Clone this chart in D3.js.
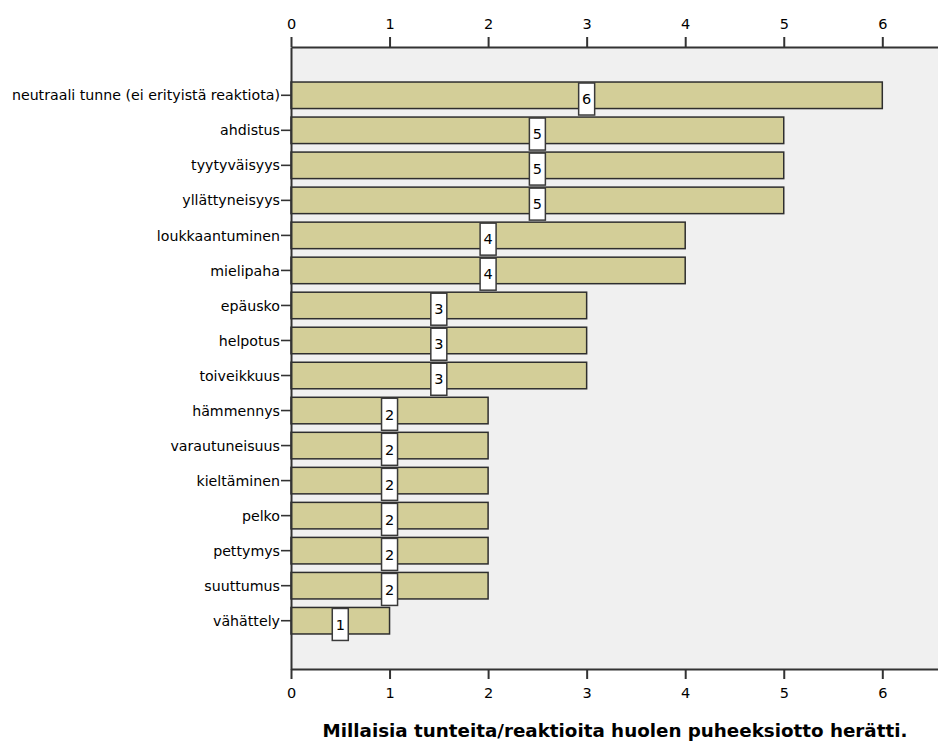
<!DOCTYPE html>
<html>
<head>
<meta charset="utf-8">
<script src="https://cdn.jsdelivr.net/npm/d3@7/dist/d3.min.js"></script>
<style>
  html, body { margin: 0; padding: 0; background: #ffffff; }
  svg { display: block; }
  text { font-family: "DejaVu Sans", "Liberation Sans", sans-serif; fill: #000; }
</style>
</head>
<body>
<svg id="chart" width="938" height="742"></svg>
<script>
// Reactions raised by bringing up the concern (counts)
const categories = [
  "neutraali tunne (ei erityistä reaktiota)",
  "ahdistus",
  "tyytyväisyys",
  "yllättyneisyys",
  "loukkaantuminen",
  "mielipaha",
  "epäusko",
  "helpotus",
  "toiveikkuus",
  "hämmennys",
  "varautuneisuus",
  "kieltäminen",
  "pelko",
  "pettymys",
  "suuttumus",
  "vähättely"
];
const counts = [6, 5, 5, 5, 4, 4, 3, 3, 3, 2, 2, 2, 2, 2, 2, 1];
const tickValues = [0, 1, 2, 3, 4, 5, 6];
const title = "Millaisia tunteita/reaktioita huolen puheeksiotto herätti.";

const svg = d3.select("#chart");
const plot = { left: 291, right: 938, top: 47, bottom: 669 };

const x = d3.scaleLinear()
  .domain([0, (plot.right - plot.left) / 98.55])
  .range([plot.left, plot.right]);

const y = d3.scaleBand()
  .domain(categories)
  .range([plot.top, plot.bottom])
  .paddingInner(0.243)
  .paddingOuter(1.0);

// plot background
svg.append("rect")
  .attr("x", plot.left).attr("y", plot.top)
  .attr("width", plot.right - plot.left).attr("height", plot.bottom - plot.top)
  .attr("fill", "#f0f0f0");

const data = categories.map((c, i) => ({ cat: c, val: counts[i] }));

// bars
svg.append("g").selectAll("rect")
  .data(data).join("rect")
  .attr("x", x(0))
  .attr("y", d => y(d.cat))
  .attr("width", d => x(d.val) - x(0))
  .attr("height", y.bandwidth())
  .attr("fill", "#d3ce98")
  .attr("stroke", "#2e2e2e")
  .attr("stroke-width", 1.5);

// axes
const axisTop = d3.axisTop(x).tickValues(tickValues).tickFormat(d3.format("d")).tickSize(10).tickSizeOuter(0);
const axisBottom = d3.axisBottom(x).tickValues(tickValues).tickFormat(d3.format("d")).tickSize(10).tickSizeOuter(0);
const axisLeft = d3.axisLeft(y).tickSize(10).tickSizeOuter(0);

function styleAxis(g) {
  g.select(".domain").attr("stroke", "#333").attr("stroke-width", 2);
  g.selectAll(".tick line").attr("stroke", "#333").attr("stroke-width", 2);
  g.selectAll(".tick text").attr("font-size", 14.5).attr("fill", "#000")
    .attr("font-family", "'DejaVu Sans', sans-serif");
}

svg.append("g").attr("transform", `translate(0,${plot.top})`).call(axisTop)
  .call(styleAxis).call(g => g.selectAll(".tick text").attr("y", -18).attr("dy", "0"));
svg.append("g").attr("transform", `translate(0,${plot.bottom})`).call(axisBottom)
  .call(styleAxis).call(g => g.selectAll(".tick text").attr("y", 29).attr("dy", "0"));
svg.append("g").attr("transform", `translate(${plot.left},0)`).call(axisLeft)
  .call(styleAxis)
  .call(g => g.selectAll(".tick line").attr("stroke-width", 1.6))
  .call(g => g.selectAll(".tick text").attr("x", -11).attr("font-size", 14.2).attr("dy", "0.36em"));

// value labels
const lbl = svg.append("g").selectAll("g")
  .data(data).join("g")
  .attr("transform", d => `translate(${x(d.val / 2)},${y(d.cat)})`);

lbl.append("rect")
  .attr("x", -8).attr("y", 1)
  .attr("width", 16).attr("height", 32)
  .attr("fill", "#ffffff")
  .attr("stroke", "#3a3a3a")
  .attr("stroke-width", 1.5);

lbl.append("text")
  .attr("x", 0).attr("y", 17)
  .attr("text-anchor", "middle")
  .attr("dy", "0.36em")
  .attr("font-size", 14.5)
  .text(d => d.val);

// axis title
svg.append("text")
  .attr("x", 615).attr("y", 737)
  .attr("text-anchor", "middle")
  .attr("font-weight", "bold")
  .attr("font-size", 18.3)
  .text(title);
</script>
</body>
</html>
